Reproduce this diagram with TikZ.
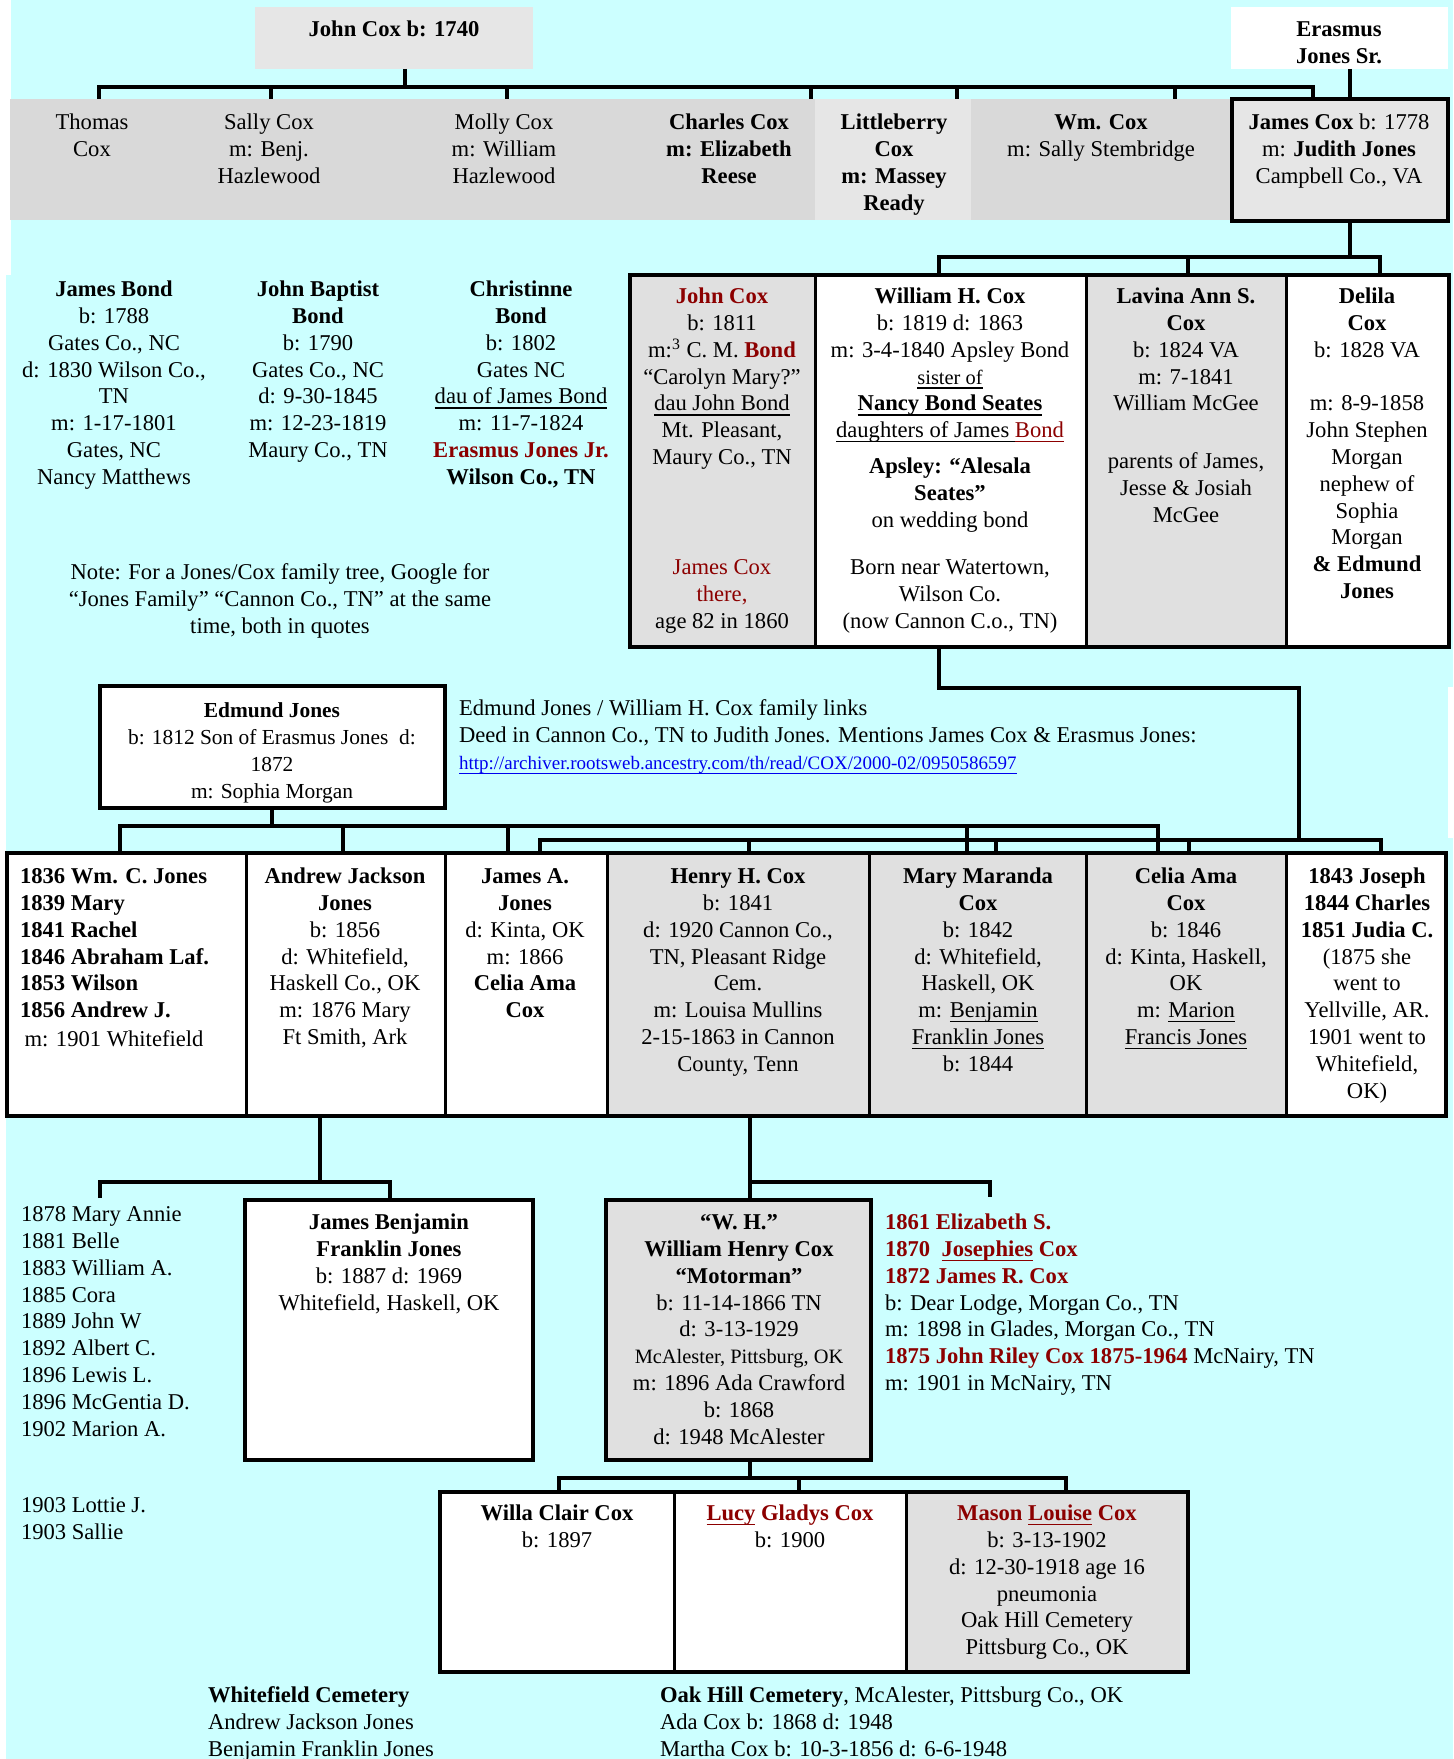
\documentclass[tikz,border=0pt]{standalone}
\usepackage{fontspec}
\setmainfont{Liberation Serif}
\definecolor{bgc}{RGB}{204,255,255}
\definecolor{g1}{RGB}{217,217,217}
\definecolor{g2}{RGB}{230,230,230}
\definecolor{g3}{RGB}{224,224,224}
\definecolor{dred}{RGB}{140,0,0}
\definecolor{lnk}{RGB}{0,0,238}
\newcommand\bodyfs{\fontsize{11.3}{13.4}\selectfont}
\newcommand\smallfs{\fontsize{10.2}{13.4}\selectfont}
\newcommand\edfs{\fontsize{10.7}{13.4}\selectfont}
\newcommand\linkfs{\fontsize{9.5}{13.4}\selectfont}
\newcommand\redt[1]{\textcolor{dred}{#1}}
\newcommand\ulg[1]{\setbox0\hbox{#1}\rlap{\rule[-2.3pt]{\wd0}{0.65pt}}\box0\relax}
\newcommand\mkbox[6]{\node[#1, anchor=north west, inner sep=0pt, outer sep=0pt, minimum width={(#5-#3)*0.5pt}, minimum height={(#6-#4)*0.5pt}] (#2) at (#3,#4) {};}
\begin{document}
\begin{tikzpicture}[x=0.5pt,y=-0.5pt,
  txt/.style={inner sep=0pt, outer sep=0pt, align=center, anchor=north, font=\bodyfs},
  txtb/.style={txt, font=\bodyfs\bfseries},
  txtl/.style={txt, align=left, anchor=north west},
  conn/.style={line width=2.4pt, line join=miter},
  cellb/.style={draw=black, line width=1.5pt},
  outerb/.style={draw=black, line width=2pt},
  boxb/.style={draw=black, line width=2pt}]
\useasboundingbox (0,0) rectangle (1453,1759);
% background
\fill[white] (0,0) rectangle (1453,1759);
\fill[bgc] (11,0) rectangle (1453,275);
\fill[bgc] (6,275) rectangle (1453,1759);
\fill[white] (1448,687) rectangle (1453,838);

% ---------- row 0
\mkbox{fill=g2}{jc}{255}{7}{533}{69}
\node[txtb] (tjc) at (394,18) {\strut John Cox b: 1740};
\mkbox{fill=white}{er}{1231}{7}{1448}{69}
\node[txtb] (ter) at (1339,18) {\strut Erasmus\\Jones Sr.};

% ---------- row 1
\mkbox{fill=g1}{band}{10}{99}{1231}{220}
\mkbox{fill=g2}{lbc}{815}{99}{971}{220}
\mkbox{fill=g2,boxb}{jam}{1232}{99}{1448}{221}
\node[txt] (thomas) at (92,111) {\strut Thomas\\Cox};
\node[txt] (sally) at (269,111) {\strut Sally Cox\\m: Benj.\\Hazlewood};
\node[txt] (molly) at (504,111) {\strut Molly Cox\\m: William\\Hazlewood};
\node[txtb] (charles) at (729,111) {\strut Charles Cox\\m: Elizabeth\\Reese};
\node[txtb] (little) at (894,111) {\strut Littleberry\\Cox\\m: Massey\\Ready};
\node[txt] (wm) at (1101,111) {\strut\textbf{Wm. Cox}\\m: Sally Stembridge};
\node[txt] (jamt) at (1339,111) {\strut\textbf{James Cox} b: 1778\\m: \textbf{Judith Jones}\\Campbell Co., VA};

\coordinate (t0) at (405,87);
\draw[conn] (jc.south -| t0) -- (t0);
\draw[conn] (band.north -| 99,0) -- (99,87) -- (1313,87) -- (jam.north -| 1313,0);
\foreach \xx in {271,507,811,957,1175} \draw[conn] (\xx,87) -- (band.north -| \xx,0);
\draw[conn] (er.south -| 1350,0) -- (jam.north -| 1350,0);

% ---------- row 2
\mkbox{fill=g3,cellb}{r2a}{630}{275}{815}{647}
\mkbox{fill=white,cellb}{r2b}{815}{275}{1086}{647}
\mkbox{fill=g3,cellb}{r2c}{1086}{275}{1286}{647}
\mkbox{fill=white,cellb}{r2d}{1286}{275}{1449}{647}
\draw[outerb] (r2a.north west) rectangle (r2d.south east);

\coordinate (t1) at (1350,257);
\draw[conn] (jam.south -| t1) -- (t1);
\draw[conn] (r2b.north -| 939,0) -- (939,257) -- (1380,257) -- (r2d.north -| 1380,0);
\draw[conn] (1188,257) -- (r2c.north -| 1188,0);

\node[txt] (r2at) at (722,285) {\strut\textbf{\redt{John Cox}}\\b: 1811\\m:\textsuperscript{3} C. M. \textbf{\redt{Bond}}\\“Carolyn Mary?”\\\ulg{dau John Bond}\\Mt. Pleasant,\\Maury Co., TN};
\node[txt] (r2at2) at (722,556) {\strut\redt{James Cox}\\\redt{there,}\\age 82 in 1860};
\node[txt] (r2bt) at (950,285) {\strut\textbf{William H. Cox}\\b: 1819 d: 1863\\m: 3-4-1840 Apsley Bond\\{\smallfs\ulg{sister of}}\\\textbf{\ulg{Nancy Bond Seates}}\\\ulg{daughters of James\ }\redt{\ulg{Bond}}};
\node[txtb] (r2bt2) at (950,455) {\strut Apsley: “Alesala\\Seates”\\\mdseries on wedding bond};
\node[txt] (r2bt3) at (950,556) {\strut Born near Watertown,\\Wilson Co.\\(now Cannon C.o., TN)};
\node[txt] (r2ct) at (1186,285) {\strut\textbf{Lavina Ann S.}\\\textbf{Cox}\\b: 1824 VA\\m: 7-1841\\William McGee};
\node[txt] (r2ct2) at (1186,450) {\strut parents of James,\\Jesse \& Josiah\\McGee};
\node[txt] (r2dt) at (1367,285) {\strut\textbf{Delila}\\\textbf{Cox}\\b: 1828 VA\\[13.4pt]m: 8-9-1858\\John Stephen\\Morgan\\nephew of\\Sophia\\Morgan\\\textbf{\& Edmund}\\\textbf{Jones}};

% left texts
\node[txt] (jb) at (114,278) {\strut\textbf{James Bond}\\b: 1788\\Gates Co., NC\\d: 1830 Wilson Co.,\\TN\\m: 1-17-1801\\Gates, NC\\Nancy Matthews};
\node[txt] (jbb) at (318,278) {\strut\textbf{John Baptist}\\\textbf{Bond}\\b: 1790\\Gates Co., NC\\d: 9-30-1845\\m: 12-23-1819\\Maury Co., TN};
\node[txt] (cb) at (521,278) {\strut\textbf{Christinne}\\\textbf{Bond}\\b: 1802\\Gates NC\\\ulg{dau of James Bond}\\m: 11-7-1824\\\textbf{\redt{Erasmus Jones Jr.}}\\\textbf{Wilson Co., TN}};
\node[txt] (note) at (280,561) {\strut Note: For a Jones/Cox family tree, Google for\\“Jones Family” “Cannon Co., TN” at the same\\time, both in quotes};

% ---------- Edmund Jones
\mkbox{fill=white,boxb}{ed}{100}{686}{445}{808}
\node[txt, font=\edfs] (edt) at (272,699) {\strut\textbf{Edmund Jones}\\b: 1812 Son of Erasmus Jones\ \ d:\\1872\\m: Sophia Morgan};
\node[txtl] (links) at (459,697) {\strut Edmund Jones / William H. Cox family links\\Deed in Cannon Co., TN to Judith Jones. Mentions James Cox \& Erasmus Jones:\\{\linkfs\textcolor{lnk}{\ulg{http://archiver.rootsweb.ancestry.com/th/read/COX/2000-02/0950586597}}}};

\draw[conn] (r2b.south -| 939,0) -- (939,688) -- (1299,688) -- (1299,840);

% ---------- row 3
\mkbox{fill=white,cellb}{r3a}{7}{853}{246}{1116}
\mkbox{fill=white,cellb}{r3b}{246}{853}{445}{1116}
\mkbox{fill=white,cellb}{r3c}{445}{853}{607}{1116}
\mkbox{fill=g3,cellb}{r3d}{607}{853}{869}{1116}
\mkbox{fill=g3,cellb}{r3e}{869}{853}{1086}{1116}
\mkbox{fill=g3,cellb}{r3f}{1086}{853}{1286}{1116}
\mkbox{fill=white,cellb}{r3g}{1286}{853}{1446}{1116}
\draw[outerb] (r3a.north west) rectangle (r3g.south east);

\draw[conn] (ed.south -| 272,0) -- (272,826);
\draw[conn] (r3a.north -| 120,0) -- (120,826) -- (1158,826) -- (r3f.north -| 1158,0);
\draw[conn] (343,826) -- (r3b.north -| 343,0);
\draw[conn] (508,826) -- (r3c.north -| 508,0);
\draw[conn] (967,826) -- (r3e.north -| 967,0);
\draw[conn] (r3c.north -| 540,0) -- (540,840) -- (1381,840) -- (r3g.north -| 1381,0);
\draw[conn] (749,840) -- (r3d.north -| 749,0);
\draw[conn] (996,840) -- (r3e.north -| 996,0);
\draw[conn] (1189,840) -- (r3f.north -| 1189,0);

\node[txtl, font=\bodyfs\bfseries] (r3at) at (20,865) {\strut 1836 Wm. C. Jones\\1839 Mary\\1841 Rachel\\1846 Abraham Laf.\\1853 Wilson\\1856 Andrew J.};
\node[txt] (r3at2) at (114,1028) {\strut m: 1901 Whitefield};
\node[txt] (r3bt) at (345,865) {\strut\textbf{Andrew Jackson}\\\textbf{Jones}\\b: 1856\\d: Whitefield,\\Haskell Co., OK\\m: 1876 Mary\\Ft Smith, Ark};
\node[txt] (r3ct) at (525,865) {\strut\textbf{James A.}\\\textbf{Jones}\\d: Kinta, OK\\m: 1866\\\textbf{Celia Ama}\\\textbf{Cox}};
\node[txt] (r3dt) at (738,865) {\strut\textbf{Henry H. Cox}\\b: 1841\\d: 1920 Cannon Co.,\\TN, Pleasant Ridge\\Cem.\\m: Louisa Mullins\\2-15-1863 in Cannon\\County, Tenn};
\node[txt] (r3et) at (978,865) {\strut\textbf{Mary Maranda}\\\textbf{Cox}\\b: 1842\\d: Whitefield,\\Haskell, OK\\m: \ulg{Benjamin}\\\ulg{Franklin Jones}\\b: 1844};
\node[txt] (r3ft) at (1186,865) {\strut\textbf{Celia Ama}\\\textbf{Cox}\\b: 1846\\d: Kinta, Haskell,\\OK\\m: \ulg{Marion}\\\ulg{Francis Jones}};
\node[txt] (r3gt) at (1367,865) {\strut\textbf{1843 Joseph}\\\textbf{1844 Charles}\\\textbf{1851 Judia C.}\\(1875 she\\went to\\Yellville, AR.\\1901 went to\\Whitefield,\\OK)};

% ---------- row 4
\mkbox{fill=white,boxb}{jbf}{245}{1200}{533}{1460}
\mkbox{fill=g3,boxb}{wh}{606}{1200}{871}{1460}
\coordinate (kidsTop) at (100,1198);
\coordinate (rlTop) at (990,1197);
\draw[conn] (r3b.south -| 320,0) -- (320,1182);
\draw[conn] (kidsTop) -- (100,1182) -- (390,1182) -- (jbf.north -| 390,0);
\draw[conn] (r3d.south -| 750,0) -- (750,1182);
\draw[conn] (wh.north -| 750,0) -- (750,1182) -- (990,1182) -- (rlTop);

\node[txt] (jbft) at (389,1211) {\strut\textbf{James Benjamin}\\\textbf{Franklin Jones}\\b: 1887 d: 1969\\Whitefield, Haskell, OK};
\node[txtl] (kids) at (21,1203) {\strut 1878 Mary Annie\\1881 Belle\\1883 William A.\\1885 Cora\\1889 John W\\1892 Albert C.\\1896 Lewis L.\\1896 McGentia D.\\1902 Marion A.};
\node[txtl] (kids2) at (21,1494) {\strut 1903 Lottie J.\\1903 Sallie};
\node[txt] (wht) at (739,1211) {\strut\textbf{“W. H.”}\\\textbf{William Henry Cox}\\\textbf{“Motorman”}\\b: 11-14-1866 TN\\d: 3-13-1929\\{\smallfs McAlester, Pittsburg, OK}\\m: 1896 Ada Crawford\\b: 1868\\d: 1948 McAlester};
\node[txtl] (rl) at (885,1211) {\strut\textbf{\redt{1861 Elizabeth S.}}\\\textbf{\redt{1870\ \ \ulg{Josephies} Cox}}\\\textbf{\redt{1872 James R. Cox}}\\b: Dear Lodge, Morgan Co., TN\\m: 1898 in Glades, Morgan Co., TN\\\textbf{\redt{1875 John Riley Cox 1875-1964}} McNairy, TN\\m: 1901 in McNairy, TN};

% ---------- row 5
\mkbox{fill=white,cellb}{r4a}{440}{1492}{674}{1672}
\mkbox{fill=white,cellb}{r4b}{674}{1492}{906}{1672}
\mkbox{fill=g3,cellb}{r4c}{906}{1492}{1188}{1672}
\draw[outerb] (r4a.north west) rectangle (r4c.south east);
\draw[conn] (wh.south -| 750,0) -- (750,1478);
\draw[conn] (r4a.north -| 559,0) -- (559,1478) -- (1066,1478) -- (r4c.north -| 1066,0);
\draw[conn] (799,1478) -- (r4b.north -| 799,0);

\node[txt] (r4at) at (557,1502) {\strut\textbf{Willa Clair Cox}\\b: 1897};
\node[txt] (r4bt) at (790,1502) {\strut\textbf{\redt{\ulg{Lucy} Gladys Cox}}\\b: 1900};
\node[txt] (r4ct) at (1047,1502) {\strut\textbf{\redt{Mason \ulg{Louise} Cox}}\\b: 3-13-1902\\d: 12-30-1918 age 16\\pneumonia\\Oak Hill Cemetery\\Pittsburg Co., OK};

\node[txtl] (wc) at (208,1684) {\strut\textbf{Whitefield Cemetery}\\Andrew Jackson Jones\\Benjamin Franklin Jones};
\node[txtl] (oh) at (660,1684) {\strut\textbf{Oak Hill Cemetery}, McAlester, Pittsburg Co., OK\\Ada Cox b: 1868 d: 1948\\Martha Cox b: 10-3-1856 d: 6-6-1948};
\end{tikzpicture}
\end{document}
